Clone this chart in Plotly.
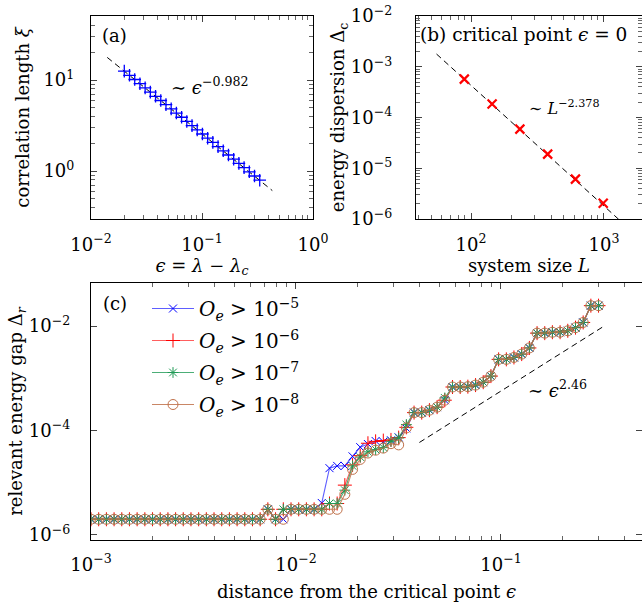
import plotly.graph_objects as go

# ---------------- Panel (a): correlation length ----------------
eps_a = [0.01995, 0.02223, 0.02476, 0.02759, 0.03074, 0.03424, 0.03815, 0.04251, 0.04735,
         0.05276, 0.05877, 0.06549, 0.07296, 0.08128, 0.09056, 0.1009, 0.1124, 0.1252,
         0.1395, 0.1554, 0.1732, 0.1929, 0.2149, 0.2394, 0.2668, 0.2972, 0.3311]
xi_a = [12.52, 11.26, 10.12, 9.104, 8.189, 7.364, 6.624, 5.956, 5.357,
        4.817, 4.333, 3.896, 3.503, 3.151, 2.834, 2.550, 2.293, 2.062,
        1.854, 1.667, 1.499, 1.349, 1.213, 1.091, 0.9808, 0.8820, 0.7933]
fit_a_eps = [0.014, 0.43]
fit_a_xi = [17.7, 0.61]

# ---------------- Panel (b): energy dispersion at critical point ----------------
L_b = [89, 144, 233, 377, 610, 987]
delta_b = [5.7e-4, 1.85e-4, 5.9e-5, 1.9e-5, 6.1e-6, 2.05e-6]
fit_b_L = [55, 1400]
fit_b_delta = [1.78e-3, 8.1e-7]

# ---------------- Panel (c): relevant energy gap ----------------
eps_c = [0.001000, 0.001090, 0.001189, 0.001296, 0.001413, 0.001540, 0.001679, 0.001831, 0.001996, 0.002176,
         0.002373, 0.002586, 0.002819, 0.003074, 0.003351, 0.003653, 0.003983, 0.004342, 0.004734, 0.005161,
         0.005626, 0.006134, 0.006687, 0.007290, 0.007948, 0.008674, 0.009458, 0.01031, 0.01124, 0.01226,
         0.01336, 0.01457, 0.01588, 0.01731, 0.01888, 0.02058, 0.02244, 0.02446, 0.02667, 0.02907,
         0.03169, 0.03455, 0.03767, 0.04106, 0.04477, 0.04881, 0.05321, 0.05801, 0.06324, 0.06894,
         0.07516, 0.08194, 0.08933, 0.09738, 0.1062, 0.1157, 0.1262, 0.1376, 0.1500, 0.1635,
         0.1782, 0.1943, 0.2118, 0.2310, 0.2518, 0.2745, 0.2992]

gap_1e5 = [2.0e-6, 2.0e-6, 2.0e-6, 2.0e-6, 2.0e-6, 2.0e-6, 2.0e-6, 2.0e-6, 2.0e-6, 2.0e-6,
           2.0e-6, 2.0e-6, 2.0e-6, 2.0e-6, 2.0e-6, 2.0e-6, 2.0e-6, 2.0e-6, 2.0e-6, 2.0e-6,
           2.0e-6, 2.0e-6, 2.0e-6, 3.1e-6, 2.0e-6, 2.0e-6, 3.1e-6, 3.1e-6, 3.1e-6, 3.1e-6,
           4.1e-6, 1.9e-5, 2.1e-5, 2.1e-5, 3.2e-5, 4.8e-5, 5.5e-5, 6.3e-5, 6.1e-5, 6.5e-5,
           7.4e-5, 1.1e-4, 2.2e-4, 2.2e-4, 2.45e-4, 2.8e-4, 3.8e-4, 6.8e-4, 6.8e-4, 6.9e-4,
           7.4e-4, 8.4e-4, 1.1e-3, 2.3e-3, 2.3e-3, 2.5e-3, 2.9e-3, 3.8e-3, 7.3e-3, 7.3e-3,
           7.6e-3, 7.6e-3, 8.1e-3, 9.3e-3, 1.17e-2, 2.45e-2, 2.45e-2]
gap_1e6 = [2.0e-6, 2.0e-6, 2.0e-6, 2.0e-6, 2.0e-6, 2.0e-6, 2.0e-6, 2.0e-6, 2.0e-6, 2.0e-6,
           2.0e-6, 2.0e-6, 2.0e-6, 2.0e-6, 2.0e-6, 2.0e-6, 2.0e-6, 2.0e-6, 2.0e-6, 2.0e-6,
           2.0e-6, 2.0e-6, 2.0e-6, 3.1e-6, 2.0e-6, 3.1e-6, 3.1e-6, 3.1e-6, 3.1e-6, 3.1e-6,
           3.1e-6, 4.0e-6, 4.0e-6, 9.0e-6, 2.2e-5, 3.3e-5, 5.7e-5, 6.2e-5, 6.4e-5, 6.6e-5,
           7.3e-5, 1.15e-4, 2.2e-4, 2.2e-4, 2.45e-4, 2.8e-4, 3.8e-4, 6.8e-4, 6.8e-4, 6.9e-4,
           7.4e-4, 8.4e-4, 1.1e-3, 2.3e-3, 2.3e-3, 2.5e-3, 2.9e-3, 3.8e-3, 7.3e-3, 7.3e-3,
           7.6e-3, 7.6e-3, 8.1e-3, 9.3e-3, 1.17e-2, 2.45e-2, 2.45e-2]
gap_1e7 = [2.0e-6, 2.0e-6, 2.0e-6, 2.0e-6, 2.0e-6, 2.0e-6, 2.0e-6, 2.0e-6, 2.0e-6, 2.0e-6,
           2.0e-6, 2.0e-6, 2.0e-6, 2.0e-6, 2.0e-6, 2.0e-6, 2.0e-6, 2.0e-6, 2.0e-6, 2.0e-6,
           2.0e-6, 2.0e-6, 2.0e-6, 3.1e-6, 2.0e-6, 3.1e-6, 3.1e-6, 3.1e-6, 3.1e-6, 3.1e-6,
           3.1e-6, 4.0e-6, 4.0e-6, 7.2e-6, 2.1e-5, 3.1e-5, 3.9e-5, 4.3e-5, 4.7e-5, 6.2e-5,
           7.2e-5, 1.3e-4, 2.2e-4, 2.2e-4, 2.45e-4, 2.8e-4, 4.2e-4, 6.8e-4, 6.8e-4, 6.9e-4,
           7.4e-4, 8.4e-4, 1.1e-3, 2.3e-3, 2.3e-3, 2.5e-3, 2.9e-3, 3.8e-3, 7.3e-3, 7.3e-3,
           7.6e-3, 7.6e-3, 8.1e-3, 9.3e-3, 1.17e-2, 2.45e-2, 2.45e-2]
gap_1e8 = [2.0e-6, 2.0e-6, 2.0e-6, 2.0e-6, 2.0e-6, 2.0e-6, 2.0e-6, 2.0e-6, 2.0e-6, 2.0e-6,
           2.0e-6, 2.0e-6, 2.0e-6, 2.0e-6, 2.0e-6, 2.0e-6, 2.0e-6, 2.0e-6, 2.0e-6, 2.0e-6,
           2.0e-6, 2.0e-6, 2.0e-6, 3.1e-6, 2.0e-6, 2.0e-6, 3.1e-6, 3.1e-6, 3.1e-6, 3.1e-6,
           3.1e-6, 3.1e-6, 3.1e-6, 6.0e-6, 1.8e-5, 2.8e-5, 3.7e-5, 4.2e-5, 4.6e-5, 5.6e-5,
           5.3e-5, 1.12e-4, 2.2e-4, 2.2e-4, 2.45e-4, 2.8e-4, 3.8e-4, 6.8e-4, 6.8e-4, 6.9e-4,
           7.4e-4, 8.4e-4, 1.1e-3, 2.3e-3, 2.3e-3, 2.5e-3, 2.9e-3, 3.8e-3, 7.3e-3, 7.3e-3,
           7.6e-3, 7.6e-3, 8.1e-3, 9.3e-3, 1.17e-2, 2.45e-2, 2.45e-2]
fit_c_eps = [0.04, 0.315]
fit_c_gap = [5.9e-5, 9.7e-3]

series_names = ["<i>O</i><sub><i>e</i></sub> > 10<sup>−5</sup>",
                "<i>O</i><sub><i>e</i></sub> > 10<sup>−6</sup>",
                "<i>O</i><sub><i>e</i></sub> > 10<sup>−7</sup>",
                "<i>O</i><sub><i>e</i></sub> > 10<sup>−8</sup>"]
series_vals = [gap_1e5, gap_1e6, gap_1e7, gap_1e8]
series_colors = ["#0000ff", "#ff0000", "#1f9a55", "#c0714a"]
series_line_colors = ["rgba(40,40,255,0.75)", "rgba(255,40,40,0.75)",
                      "rgba(31,154,85,0.8)", "rgba(192,113,74,0.85)"]
series_symbols = ["x-thin-open", "cross-thin-open", "asterisk-open", "circle-open"]
series_sizes = [8, 10, 9, 10]

# tick labels
ticks_a_x = [0.01, 0.1, 1]
ticklab_a_x = ["10<sup>−2</sup>", "10<sup>−1</sup>", "10<sup>0</sup>"]
ticks_a_y = [1, 10]
ticklab_a_y = ["10<sup>0</sup>", "10<sup>1</sup>"]
ticks_b_x = [100, 1000]
ticklab_b_x = ["10<sup>2</sup>", "10<sup>3</sup>"]
ticks_b_y = [1e-6, 1e-5, 1e-4, 1e-3, 1e-2]
ticklab_b_y = ["10<sup>−6</sup>", "10<sup>−5</sup>", "10<sup>−4</sup>", "10<sup>−3</sup>", "10<sup>−2</sup>"]
ticks_c_x = [0.001, 0.01, 0.1]
ticklab_c_x = ["10<sup>−3</sup>", "10<sup>−2</sup>", "10<sup>−1</sup>"]
ticks_c_y = [1e-6, 1e-4, 1e-2]
ticklab_c_y = ["10<sup>−6</sup>", "10<sup>−4</sup>", "10<sup>−2</sup>"]

FONT = "DejaVu Serif"
FS = 18
W, H = 642, 602


def minor_vals(lo_exp, hi_exp):
    return [m * 10.0 ** e for e in range(lo_exp, hi_exp + 1) for m in range(2, 10)]


def axis(dom, rng, tv, tt, title, minor=None, standoff=6, tls=6):
    d = dict(type="log", domain=dom, range=rng, tickmode="array", tickvals=tv, ticktext=tt,
             ticks="inside", ticklen=6, tickwidth=1, tickcolor="#444", automargin=False,
             showline=True, linecolor="black", linewidth=1.2, mirror="ticks",
             showgrid=False, zeroline=False, ticklabelstandoff=tls,
             tickfont=dict(family=FONT, size=FS, color="black"),
             title=dict(text=title, font=dict(family=FONT, size=FS, color="black"), standoff=standoff))
    if minor is not None:
        d["minor"] = dict(tickmode="array", tickvals=minor, ticks="inside", ticklen=3.5,
                          tickwidth=1, tickcolor="#666", showgrid=False)
    return d


def xd(x0, x1):
    return [x0 / W, min(x1 / W, 1.0)]


def yd(top, bottom):
    return [1 - bottom / H, 1 - top / H]


fig = go.Figure()

# panel (a)
fig.add_trace(go.Scatter(x=fit_a_eps, y=fit_a_xi, mode="lines", xaxis="x", yaxis="y",
                         line=dict(color="black", width=1, dash="6px,4px"), showlegend=False))
fig.add_trace(go.Scatter(x=eps_a, y=xi_a, mode="markers", xaxis="x", yaxis="y",
                         marker=dict(symbol="cross-thin-open", size=9, color="#0000ff",
                                     line=dict(width=1.3, color="#0000ff")), showlegend=False))
# panel (b)
fig.add_trace(go.Scatter(x=fit_b_L, y=fit_b_delta, mode="lines", xaxis="x2", yaxis="y2",
                         line=dict(color="black", width=1, dash="6px,4px"), showlegend=False))
fig.add_trace(go.Scatter(x=L_b, y=delta_b, mode="markers", xaxis="x2", yaxis="y2",
                         marker=dict(symbol="x-thin-open", size=9, color="#ff0000",
                                     line=dict(width=2.2, color="#ff0000")), showlegend=False))
# panel (c)
fig.add_trace(go.Scatter(x=fit_c_eps, y=fit_c_gap, mode="lines", xaxis="x3", yaxis="y3",
                         line=dict(color="black", width=1, dash="6px,4px"), showlegend=False))
for name, vals, col, lcol, sym, sz in zip(series_names, series_vals, series_colors,
                                          series_line_colors, series_symbols, series_sizes):
    fig.add_trace(go.Scatter(x=eps_c, y=vals, mode="lines+markers", name=name,
                             xaxis="x3", yaxis="y3", legendgroup=name,
                             line=dict(color=lcol, width=1.1),
                             marker=dict(symbol=sym, size=sz, color=col,
                                         line=dict(width=1, color=col))))

ann_font = dict(family=FONT, size=FS, color="black")
annotations = [
    dict(text="(a)", xref="x domain", yref="y domain", x=0.04, y=0.906, xanchor="left",
         yanchor="middle", showarrow=False, font=ann_font),
    dict(text="∼ <i>ϵ</i><sup>−0.982</sup>", xref="x", yref="y", x=-1.30, y=0.93,
         xanchor="left", yanchor="middle", showarrow=False, font=ann_font),
    dict(text="(b) critical point <i>ϵ</i> = 0", xref="x2 domain", yref="y2 domain", x=0.01,
         y=0.911, xanchor="left", yanchor="middle", showarrow=False,
         font=dict(family=FONT, size=18.5, color="black")),
    dict(text="∼ <i>L</i><sup>−2.378</sup>", xref="x2", yref="y2", x=2.42, y=-3.8,
         xanchor="left", yanchor="middle", showarrow=False,
         font=dict(family=FONT, size=16, color="black")),
    dict(text="(c)", xref="x3 domain", yref="y3 domain", x=0.018, y=0.922, xanchor="left",
         yanchor="middle", showarrow=False, font=ann_font),
    dict(text="∼ <i>ϵ</i><sup>2.46</sup>", xref="x3", yref="y3", x=-0.88, y=-3.21,
         xanchor="left", yanchor="middle", showarrow=False, font=ann_font),
]

fig.update_layout(
    width=W, height=H, margin=dict(l=0, r=0, t=0, b=0),
    paper_bgcolor="white", plot_bgcolor="white",
    font=dict(family=FONT, size=FS, color="black"),
    xaxis=axis(xd(91, 313), [-2, 0], ticks_a_x, ticklab_a_x,
               "<i>ϵ</i> = <i>λ</i> − <i>λ</i><sub><i>c</i></sub>", minor_vals(-2, -1),
               standoff=3, tls=9),
    yaxis=axis(yd(16, 219), [-0.527, 1.703], ticks_a_y, ticklab_a_y,
               "correlation length <i>ξ</i>", minor_vals(-1, 1), standoff=9, tls=12),
    xaxis2=dict(axis(xd(416, 642), [1.586, 3.286], ticks_b_x, ticklab_b_x,
                     "system size <i>L</i>", minor_vals(1, 3), standoff=3, tls=9), anchor="y2"),
    yaxis2=dict(axis(yd(16, 219), [-6, -2], ticks_b_y, ticklab_b_y,
                     "energy dispersion Δ<sub>c</sub>", minor_vals(-6, -3), standoff=1, tls=19),
                anchor="x2"),
    xaxis3=dict(axis(xd(91, 642), [-3, -0.312], ticks_c_x, ticklab_c_x,
                     "distance from the critical point <i>ϵ</i>", minor_vals(-3, -1),
                     standoff=11, tls=8), anchor="y3"),
    yaxis3=dict(axis(yd(283, 540), [-6.096, -1.177], ticks_c_y, ticklab_c_y,
                     "relevant energy gap Δ<sub><i>r</i></sub>", standoff=1, tls=16), anchor="x3"),
    legend=dict(x=147 / W, y=1 - 289 / H, xanchor="left", yanchor="top",
                bgcolor="rgba(255,255,255,0)", borderwidth=0, tracegroupgap=3, itemwidth=42,
                font=dict(family=FONT, size=20, color="black")),
    annotations=annotations,
    showlegend=True,
)

fig.write_html("out.html", config={"displayModeBar": False},
               post_script="document.body.style.margin='0';")
